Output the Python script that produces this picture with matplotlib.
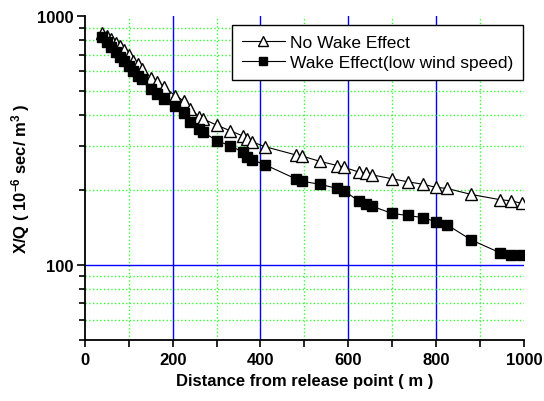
import matplotlib
matplotlib.use('Agg')
import matplotlib.pyplot as plt
from matplotlib.ticker import MultipleLocator, NullFormatter, FixedLocator, FixedFormatter

plt.rcParams['font.family'] = ['Liberation Sans', 'DejaVu Sans']
plt.rcParams['mathtext.fontset'] = 'custom'
plt.rcParams['mathtext.rm'] = 'Liberation Sans:bold'
plt.rcParams['mathtext.bf'] = 'Liberation Sans:bold'
plt.rcParams['mathtext.default'] = 'bf'

# distance from release point (m)
distance = [40, 50, 60, 70, 80, 90, 100, 110, 120, 130, 150, 165, 180, 205, 225,
            240, 260, 270, 300, 330, 360, 370, 380, 410, 480, 495, 535, 575, 590,
            625, 640, 655, 700, 735, 770, 800, 825, 880, 945, 970, 995]

# X/Q without wake effect
no_wake = [857, 836, 811, 780, 760, 735, 700, 663, 640, 614, 565, 546, 520, 480, 458,
           424, 395, 386, 365, 347, 330, 321, 313, 299, 277, 274, 261, 251, 247,
           236, 234, 230, 222, 216, 211, 205, 203, 192, 183, 181, 177]

# X/Q with wake effect (low wind speed)
wake = [823, 786, 750, 717, 685, 660, 630, 604, 577, 560, 510, 487, 465, 437, 407,
        377, 352, 342, 316, 302, 284, 271, 265, 253, 222, 217, 211, 203, 199,
        180, 176, 172, 161, 158, 155, 149, 145, 126, 112, 110, 110]

fig = plt.figure(figsize=(5.44, 4.02), dpi=100)
ax = fig.add_axes([0.156, 0.1525, 0.807, 0.8045])

ax.plot(distance, no_wake, color='black', lw=0.8, marker='^', ms=8,
        mfc='white', mec='black', mew=1.0, label='No Wake Effect', zorder=3)
ax.plot(distance, wake, color='black', lw=0.8, marker='s', ms=6.5,
        mfc='black', mec='black', label='Wake Effect(low wind speed)', zorder=3)

ax.set_yscale('log')
ax.set_xlim(0, 1000)
ax.set_ylim(50, 1000)

ax.xaxis.set_major_locator(MultipleLocator(200))
ax.xaxis.set_minor_locator(MultipleLocator(100))
ax.yaxis.set_major_locator(FixedLocator([100, 1000]))
ax.yaxis.set_major_formatter(FixedFormatter(['100', '1000']))
ax.yaxis.set_minor_locator(FixedLocator([50, 60, 70, 80, 90, 200, 300, 400, 500,
                                         600, 700, 800, 900]))
ax.yaxis.set_minor_formatter(NullFormatter())

# grid: blue solid majors, green dotted minors
for xv in [200, 400, 600, 800]:
    ax.axvline(xv, color='blue', lw=1.0, zorder=1)
for xv in [100, 300, 500, 700, 900]:
    ax.axvline(xv, color='#33ff33', lw=1.0, ls=':', zorder=1)
ax.axhline(100, color='blue', lw=1.0, zorder=1)
for yv in [60, 70, 80, 90, 200, 300, 400, 500, 600, 700, 800, 900]:
    ax.axhline(yv, color='#33ff33', lw=1.0, ls=':', zorder=1)

ax.spines['top'].set_visible(False)
ax.spines['right'].set_visible(False)
ax.spines['left'].set_linewidth(1.3)
ax.spines['bottom'].set_linewidth(1.3)

ax.tick_params(axis='x', which='both', direction='out', length=5, width=1.2,
               labelsize=12)
ax.tick_params(axis='y', which='major', direction='out', length=6, width=1.2,
               labelsize=12, pad=2)
ax.tick_params(axis='y', which='minor', direction='out', length=4, width=1.2)
for lab in ax.get_xticklabels() + ax.get_yticklabels():
    lab.set_fontweight('bold')

ax.set_xlabel('Distance from release point ( m )', fontsize=12, fontweight='bold',
              labelpad=5)
ax.set_ylabel(r'X/Q ( 10$^{-6}$ sec/ m$^{3}$ )', fontsize=12, fontweight='bold',
              labelpad=4)

leg = ax.legend(loc='upper right', bbox_to_anchor=(0.998, 0.972), fancybox=False,
                edgecolor='black', framealpha=1, fontsize=12.5, handlelength=2.5,
                markerscale=0.85, borderpad=0.55, labelspacing=0.3, handletextpad=0.3,
                borderaxespad=0)
leg.get_frame().set_linewidth(1.0)

fig.savefig('out.png', dpi=100)
